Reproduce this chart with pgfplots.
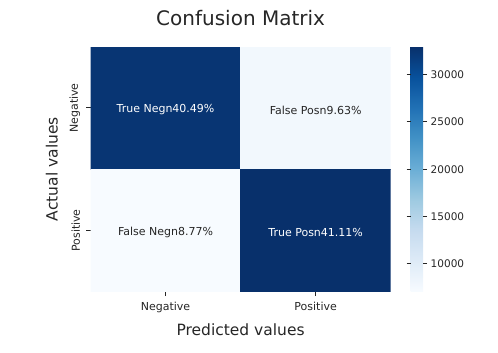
\documentclass[border=0pt]{standalone}
\usepackage{fontspec}
\setmainfont{DejaVu Sans}
\usepackage{pgfplots}
\pgfplotsset{compat=1.18}
\definecolor{txt}{HTML}{262626}
\begin{document}
\begin{tikzpicture}
\path[use as bounding box] (0,0) rectangle (498bp,-353bp);
\begin{axis}[
  at={(90.5bp,-46.7bp)}, anchor=north west,
  scale only axis, width=300.2bp, height=245bp,
  xmin=-0.5, xmax=1.5, ymin=-0.5, ymax=1.5, y dir=reverse,
  enlargelimits=false,
  axis line style={draw=none},
  xtick={0,1}, xticklabels={Negative,Positive},
  ytick={0,1}, yticklabels={Negative,Positive},
  xtick pos=bottom, ytick pos=left,
  tick align=outside,
  major tick length=4.4bp,
  major tick style={line width=1bp, color=txt},
  ticklabel style={font=\fontsize{11bp}{13bp}\selectfont, text=txt},
  xticklabel style={yshift=-3bp},
  yticklabel style={xshift=-2.5bp, rotate=90, anchor=south},
  title={Confusion Matrix},
  title style={at={(axis description cs:0.5,1.0633)}, anchor=base, font=\fontsize{20bp}{24bp}\selectfont, text=txt},
  xlabel={Predicted values},
  xlabel style={at={(axis description cs:0.5,-0.1796)}, anchor=base, font=\fontsize{15.5bp}{18bp}\selectfont, text=txt},
  ylabel={Actual values},
  ylabel style={at={(axis description cs:-0.1096,0.5)}, anchor=base, font=\fontsize{15.5bp}{18bp}\selectfont, text=txt},
  colormap={sbblues}{rgb255=(247,251,255) rgb255=(222,235,247) rgb255=(198,219,239) rgb255=(158,202,225) rgb255=(107,174,214) rgb255=(66,146,198) rgb255=(33,113,181) rgb255=(8,81,156) rgb255=(8,48,107)},
  point meta min=7034, point meta max=32970,
  colorbar,
  colorbar style={
    at={(parent axis.north east)}, anchor=north west, xshift=11.5bp,
    scale only axis, width=12.5bp, height=245bp,
    axis line style={draw=none},
    ytick={10000,15000,20000,25000,30000},
    scaled y ticks=false,
    tick align=outside, major tick length=4bp,
    major tick style={line width=1bp, color=txt},
    yticklabel style={rotate=0, anchor=west, font=\fontsize{10.5bp}{12bp}\selectfont, text=txt,
      /pgf/number format/1000 sep={}, /pgf/number format/fixed, /pgf/number format/assume math mode=true},
  },
]
\addplot[matrix plot*, mesh/cols=2, point meta=explicit] table[meta=c] {
x y c
0 0 32473
1 0 7723
0 1 7034
1 1 32970
};
\addplot[draw=none, mark=none, nodes near coords={True Negn40.49\%}, nodes near coords align={center},
  every node near coord/.append style={text=white, yshift=-2bp, font=\fontsize{11bp}{13bp}\selectfont}] coordinates {(0,0)};
\addplot[draw=none, mark=none, nodes near coords={False Posn9.63\%}, nodes near coords align={center},
  every node near coord/.append style={text=txt, yshift=-2bp, font=\fontsize{11bp}{13bp}\selectfont}] coordinates {(1,0)};
\addplot[draw=none, mark=none, nodes near coords={False Negn8.77\%}, nodes near coords align={center},
  every node near coord/.append style={text=txt, yshift=-2bp, font=\fontsize{11bp}{13bp}\selectfont}] coordinates {(0,1)};
\addplot[draw=none, mark=none, nodes near coords={True Posn41.11\%}, nodes near coords align={center},
  every node near coord/.append style={text=white, yshift=-2bp, font=\fontsize{11bp}{13bp}\selectfont}] coordinates {(1,1)};
\end{axis}
\end{tikzpicture}
\end{document}
